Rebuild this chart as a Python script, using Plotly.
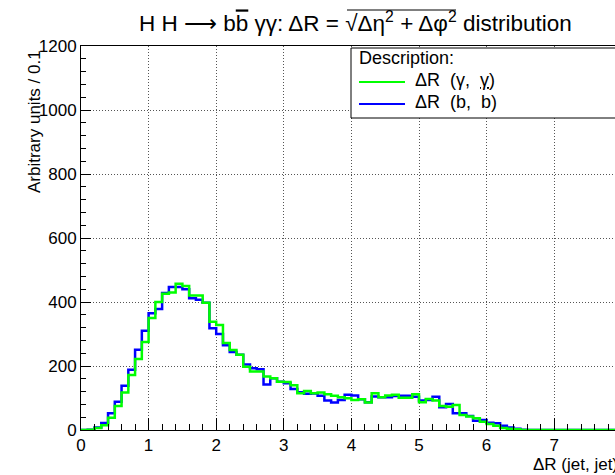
import numpy as np
import plotly.graph_objects as go

# ---- data (bin width 0.1, bins starting at 0.0) ----
bin_width = 0.1
dr_gamma = [0, 1, 6, 15, 38, 75, 117, 172, 222, 275,
            350, 400, 426, 430, 457, 450, 420, 420, 398, 338,
            328, 272, 250, 235, 198, 183, 183, 167, 162, 151,
            150, 140, 115, 122, 115, 117, 112, 107, 102, 99,
            94, 96, 86, 115, 102, 108, 110, 101, 101, 112,
            87, 97, 92, 75, 73, 78, 47, 42, 37, 26,
            19, 13, 6, 4, 2, 0, 0, 0, 0, 0,
            0, 0, 0, 0, 0, 0, 0, 0, 0, 0]
dr_b = [0, 1, 8, 22, 52, 88, 138, 188, 251, 310,
        365, 378, 428, 447, 447, 440, 412, 407, 398, 318,
        300, 265, 244, 235, 205, 193, 190, 142, 162, 151,
        146, 128, 118, 113, 114, 107, 92, 86, 94, 110,
        108, 96, 87, 105, 102, 102, 106, 107, 107, 104,
        92, 94, 104, 71, 81, 52, 52, 44, 29, 31,
        23, 21, 13, 8, 4, 1, 0, 0, 0, 0,
        0, 0, 0, 0, 0, 0, 0, 0, 0, 0]
NB = "\u00a0"
series_names = [f"ΔR{NB} (γ,{NB} <span style='text-decoration:underline'>γ</span>)",
                f"ΔR{NB} (b,{NB} b)"]
x_ticks = [0, 1, 2, 3, 4, 5, 6, 7]
y_ticks = [0, 200, 400, 600, 800, 1000, 1200]

W, H = 615, 475
ML, MR, MT, MB = 81, 0, 46, 45
PW, PH = W - ML - MR, H - MT - MB
px_per_unit = 67.6
x_max = PW / px_per_unit


def edges(vals):
    n = len(vals)
    xe = np.round(np.arange(n + 1) * bin_width, 3)
    ye = list(vals) + [vals[-1]]
    return xe, ye


def px(xpix):
    return (xpix - ML) / PW


def py(ypix):
    return (H - MB - ypix) / PH


fig = go.Figure()
xb, yb = edges(dr_b)
fig.add_trace(go.Scatter(x=xb, y=yb, mode="lines", line=dict(color="#0000ff", width=2.5, shape="hv"),
                         name="ΔR (b, b)", showlegend=False))
xg, yg = edges(dr_gamma)
fig.add_trace(go.Scatter(x=xg, y=yg, mode="lines", line=dict(color="#00ff00", width=2.5, shape="hv"),
                         name="ΔR (γ, γ)", showlegend=False))

font = "Liberation Sans, Arial, Helvetica, sans-serif"
grid_dash = "1px,2px"

fig.update_layout(
    width=W, height=H,
    margin=dict(l=ML, r=MR, t=MT, b=MB, pad=0),
    paper_bgcolor="white", plot_bgcolor="white",
    font=dict(family=font, color="black", size=17),
    showlegend=False,
    xaxis=dict(range=[0, x_max], tickvals=x_ticks, ticktext=[str(v) for v in x_ticks],
               ticks="inside", ticklen=12, tickwidth=1, tickcolor="black",
               minor=dict(dtick=0.2, ticks="inside", ticklen=6, tickcolor="black", showgrid=False),
               showline=True, linecolor="black", linewidth=1, mirror=True,
               showgrid=True, gridcolor="#555", griddash=grid_dash, gridwidth=1,
               zeroline=False, tickfont=dict(size=17)),
    yaxis=dict(range=[0, 1200], tickvals=y_ticks, ticktext=[str(v) for v in y_ticks],
               ticks="inside", ticklen=10, tickwidth=1, tickcolor="black",
               minor=dict(dtick=40, ticks="inside", ticklen=5, tickcolor="black", showgrid=False),
               showline=True, linecolor="black", linewidth=1, mirror=False,
               showgrid=True, gridcolor="#555", griddash=grid_dash, gridwidth=1,
               zeroline=False, tickfont=dict(size=17)),
)

# title
title_text = ("H H ⟶ b<span style='text-decoration:overline'>b</span> γγ: ΔR = "
              "√Δη<sup>2</sup> + Δφ<sup>2</sup> distribution")
fig.add_annotation(text=title_text, xref="paper", yref="paper", x=px(355), y=py(22),
                   xanchor="center", yanchor="middle", showarrow=False, font=dict(size=22.5))
# radical bar over the radicand
fig.add_shape(type="line", xref="paper", yref="paper", x0=px(347), x1=px(456), y0=py(10), y1=py(10),
              line=dict(color="black", width=1))

# axis titles
fig.add_annotation(text="Arbitrary units / 0.1", xref="paper", yref="paper", x=px(35), y=py(122),
                   xanchor="center", yanchor="middle", textangle=-90, showarrow=False, font=dict(size=17))
fig.add_annotation(text="ΔR (jet, jet)", xref="paper", yref="paper", x=px(531), y=py(464),
                   xanchor="left", yanchor="middle", showarrow=False, font=dict(size=17))

# legend box
fig.add_shape(type="rect", xref="paper", yref="paper", x0=px(351), x1=px(640), y0=py(118), y1=py(48),
              line=dict(color="black", width=1), fillcolor="white", layer="above")
fig.add_annotation(text="Description:", xref="paper", yref="paper", x=px(357), y=py(58),
                   xanchor="left", yanchor="middle", showarrow=False, font=dict(size=18))
for i, (col, ypix) in enumerate([("#00ff00", 82), ("#0000ff", 104)]):
    fig.add_shape(type="line", xref="paper", yref="paper", x0=px(359), x1=px(405), y0=py(ypix), y1=py(ypix),
                  line=dict(color=col, width=2), layer="above")
    fig.add_annotation(text=series_names[i], xref="paper", yref="paper", x=px(413), y=py(ypix - 2),
                       xanchor="left", yanchor="middle", showarrow=False, font=dict(size=18))

fig.write_html("out.html")
